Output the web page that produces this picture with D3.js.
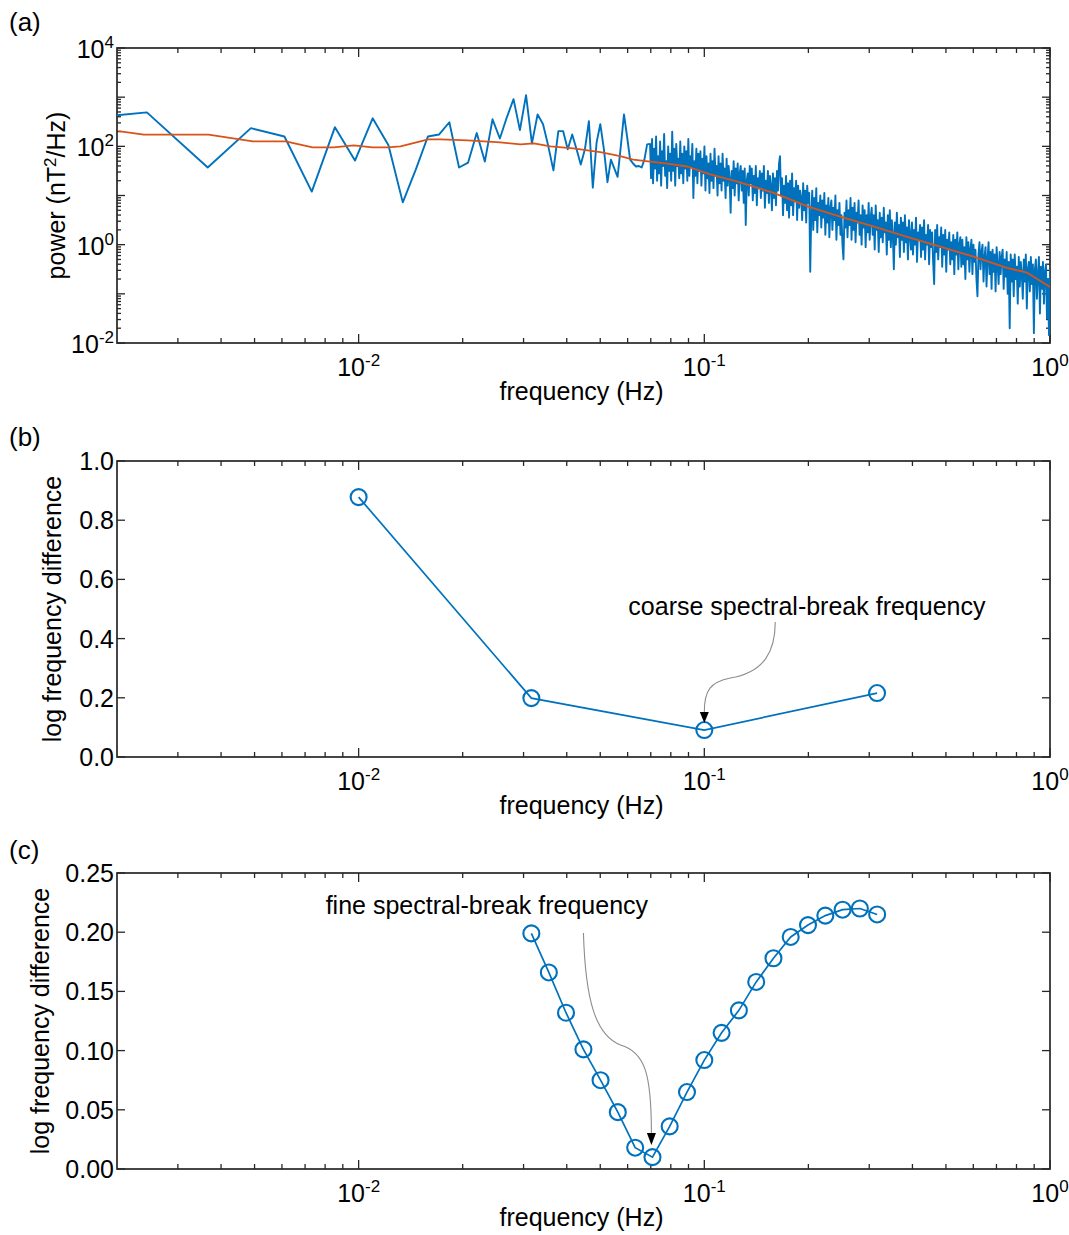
<!DOCTYPE html>
<html><head><meta charset="utf-8">
<script src="https://cdn.jsdelivr.net/npm/d3@7"></script>
<style>
body{margin:0;background:#fff}
text{font-family:"Liberation Sans",Arial,Helvetica,sans-serif;fill:#000}
</style>
</head><body>
<svg id="chart" width="1069" height="1235"></svg>
<script>
// ---------------- DATA ----------------
// (a) power spectrum: FFT bins f = k*df, k = 1..56 (log10 of power, nT^2/Hz)
const df = 0.00122;
const powerLowLog10 = [2.49,2.69,1.57,2.37,2.20,1.08,2.39,1.71,2.57,2.02,
  0.86,1.53,2.20,2.24,2.49,1.57,1.67,2.27,1.69,2.55,
  2.16,2.59,2.96,2.33,3.04,2.06,2.65,2.45,2.00,1.51,
  2.31,2.31,1.94,2.24,1.94,1.63,1.94,2.51,1.16,2.08,
  2.45,1.94,1.27,1.73,1.55,1.38,2.00,2.65,2.20,1.73,
  1.65,1.59,1.60,1.57,1.73,2.04];
// (a) dense high-frequency part, log-spaced from 10^hfLogFreqStart to 10^hfLogFreqEnd Hz
const hfLogFreqStart = -1.157, hfLogFreqEnd = 0;
const powerHighLog10 = [
 2.05,1.35,2.15,1.25,1.95,1.55,2.2,1.3,1.8,1.45,
 2.1,1.2,1.9,1.6,2.25,1.4,1.7,1.15,2.0,1.5,
 1.85,1.3,2.3,1.5,1.95,1.2,2.05,1.6,1.75,1.35,
 2.1,1.45,1.85,1.25,2.0,1.55,1.9,1.3,2.15,1.4,
 1.8,1.6,2.05,0.95,1.7,1.4,1.95,1.25,1.85,1.5,
 1.9,1.2,1.75,1.45,2.0,1.1,1.8,1.35,1.65,1.05,
 1.85,1.3,1.7,1.15,1.95,1.4,1.6,1.0,1.8,1.25,
 1.65,1.1,1.85,1.3,1.55,0.95,1.75,1.2,1.6,1.35,
 0.65,1.5,1.15,1.7,1.0,1.55,1.25,1.65,0.9,1.45,
 1.6,1.1,1.5,0.85,1.55,0.4,1.3,1.45,1.0,1.6,
 1.25,1.55,0.9,1.4,1.05,1.6,0.8,1.35,1.15,1.5,
 0.95,1.45,1.1,1.6,0.75,1.3,1.05,1.5,0.85,1.4,
 1.2,0.7,1.45,0.95,1.35,0.8,1.5,1.1,1.65,1.8,
 1.0,1.35,0.6,1.2,0.85,1.4,0.7,1.25,0.55,1.3,
 0.8,1.45,0.6,1.15,0.9,1.3,0.5,1.2,0.75,1.1,
 0.95,0.5,1.25,0.7,1.1,0.45,1.2,0.85,1.05,-0.55,
 0.6,1.1,0.3,0.95,0.5,1.15,0.25,0.85,0.6,1.0,
 0.35,0.9,0.55,1.05,0.2,0.8,0.45,0.95,0.15,0.75,
 0.9,0.3,0.75,0.5,1.0,0.1,0.7,0.4,0.85,0.2,
 0.6,0.0,-0.3,0.65,0.35,0.9,0.15,0.7,0.4,0.95,
 0.1,0.75,0.3,0.85,0.05,0.65,0.45,0.9,0.2,0.6,
 0.0,0.8,0.35,0.7,-0.05,0.6,0.25,0.85,0.1,0.55,
 0.75,0.2,0.6,-0.1,0.8,0.3,0.5,-0.15,0.65,0.15,
 0.55,0.05,0.75,0.25,0.45,-0.2,0.6,0.1,0.7,-0.05,
 0.5,0.2,-0.5,0.45,0.0,0.65,0.15,0.4,-0.25,0.55,
 0.1,0.45,-0.15,0.6,0.05,0.35,-0.3,0.5,0.2,-0.1,
 0.45,-0.2,0.3,0.0,0.55,-0.35,0.25,0.1,0.4,-0.25,
 0.35,-0.1,0.5,-0.3,0.2,0.0,0.4,-0.4,0.3,-0.05,
 0.25,-0.35,-0.8,0.3,-0.15,0.4,-0.3,0.15,-0.05,0.35,
 -0.45,0.2,-0.2,0.3,-0.55,0.1,-0.1,0.25,-0.4,0.05,
 -0.3,0.2,-0.6,0.1,-0.2,0.25,-0.5,0.0,0.15,-0.45,
 0.1,-0.4,-0.05,-0.7,0.15,-0.3,0.05,-0.55,-0.1,0.1,
 -0.6,0.0,-0.35,-0.1,-0.7,-1.05,-0.2,0.05,-0.5,-0.15,
 0.0,-0.75,-0.25,-0.05,-0.85,-0.3,0.05,-0.6,-0.15,-0.9,
 -0.1,-0.55,-0.2,-0.95,-0.05,-0.4,-0.8,-0.15,-0.6,-0.25,
 -0.1,-0.9,-0.3,-0.65,-0.15,-1.0,-0.35,-1.7,-0.2,-0.75,
 -0.3,-1.05,-0.2,-0.7,-0.45,-1.2,-0.25,-0.85,-0.35,-0.6,
 -1.1,-0.3,-0.75,-0.2,-1.3,-0.5,-0.35,-0.95,-0.25,-0.8,
 -0.4,-1.8,-0.5,-0.3,-1.1,-0.6,-0.25,-1.4,-0.45,-0.9,
 -0.35,-1.2,-0.55,-0.4,-1.5,-0.7,-1.84,-0.5];
// (a) smoothed spectrum (orange)
const smoothFreq = [0.00202,0.00239,0.00368,0.00494,0.00615,0.00736,0.00847,0.00968,0.01097,0.01213,
  0.01322,0.0159,0.01725,0.02065,0.0257,0.0294,0.0321,0.0359,0.0418,0.050,
  0.0571,0.0623,0.0782,0.0893,0.104,0.121,0.136,0.158,0.199,0.247,
  0.308,0.386,0.481,0.598,0.751,0.859,1.0];
const smoothLog10 = [2.31,2.24,2.24,2.10,2.10,1.98,1.98,2.02,1.98,1.98,
  2.00,2.14,2.14,2.12,2.08,2.04,2.06,2.00,1.96,1.88,
  1.80,1.73,1.65,1.59,1.43,1.31,1.20,1.06,0.78,0.57,
  0.37,0.16,-0.04,-0.24,-0.47,-0.57,-0.86];
// (b) coarse search
const coarseFreq = [0.01,0.0316,0.1,0.316];
const coarseDiff = [0.878,0.199,0.091,0.216];
// (c) fine search
const fineFreq = [0.0316,0.0355,0.0398,0.0447,0.0501,0.0562,0.0631,0.0708,0.0794,0.0891,
  0.1,0.1122,0.1259,0.1413,0.1585,0.1778,0.1995,0.2239,0.2512,0.2818,0.3162];
const fineDiff = [0.199,0.166,0.132,0.101,0.075,0.048,0.018,0.010,0.036,0.065,
  0.092,0.115,0.134,0.158,0.178,0.196,0.206,0.214,0.219,0.220,0.215];
// tick labels
const xTickValues = [0.01,0.1,1];
const xTickExp = ["-2","-1","0"];
const powerTickValues = [0.01,1,100,10000];
const powerTickExp = ["-2","0","2","4"];
const coarseTickValues = [0,0.2,0.4,0.6,0.8,1.0];
const coarseTickLabels = ["0.0","0.2","0.4","0.6","0.8","1.0"];
const fineTickValues = [0,0.05,0.10,0.15,0.20,0.25];
const fineTickLabels = ["0.00","0.05","0.10","0.15","0.20","0.25"];
// annotations (data coordinates)
const coarseNote = {text:"coarse spectral-break frequency", f:0.0603, v:0.480,
  path:[[0.1604,0.456],[0.1604,0.361],[0.1501,0.287],[0.1189,0.267],[0.1041,0.253],[0.1,0.226],[0.1,0.152]], tip:[0.1,0.115]};
const fineNote = {text:"fine spectral-break frequency", f:0.00803, v:0.215,
  path:[[0.0447,0.1993],[0.0453,0.1427],[0.0484,0.1132],[0.0572,0.1047],[0.0675,0.0988],[0.0703,0.0794],[0.0703,0.0304]], tip:[0.0703,0.0203]};

// ---------------- DRAW ----------------
const BLUE="#0072BD", ORANGE="#D95319", AX="#262626";
const L=117, R=1050;
const svg=d3.select("#chart");
const x=d3.scaleLog().domain([0.002,1]).range([L,R]);
const xMajor=[0.01,0.1,1];
const xMinor=x.ticks().filter(t=>!xMajor.some(m=>Math.abs(m-t)/m<1e-6) && t>0.0021);

function frame(top,bottom,yScale,yMaj,yMin){
  const g=svg.append("g");
  const tk=(x1,y1,x2,y2)=>g.append("line").attr("x1",x1).attr("y1",y1).attr("x2",x2).attr("y2",y2)
     .attr("stroke",AX).attr("stroke-width",1.3);
  xMinor.forEach(t=>{const p=x(t);tk(p,bottom,p,bottom-5);tk(p,top,p,top+5);});
  xMajor.forEach(t=>{const p=x(t);tk(p,bottom,p,bottom-9);tk(p,top,p,top+9);});
  yMin.forEach(t=>{const p=yScale(t);tk(L,p,L+4,p);tk(R,p,R-4,p);});
  yMaj.forEach(t=>{const p=yScale(t);tk(L,p,L+8,p);tk(R,p,R-8,p);});
  g.append("rect").attr("x",L).attr("y",top).attr("width",R-L).attr("height",bottom-top)
    .attr("fill","none").attr("stroke",AX).attr("stroke-width",1.7);
  xTickValues.forEach((t,i)=>{
    const tx=g.append("text").attr("x",x(t)).attr("y",bottom+33).attr("text-anchor","middle").attr("font-size",25);
    tx.append("tspan").text("10");
    tx.append("tspan").attr("dy",-10).attr("font-size",17).text(xTickExp[i]);
  });
  g.append("text").attr("x",(L+R)/2 - 2).attr("y",bottom+57).attr("text-anchor","middle")
    .attr("font-size",25).text("frequency (Hz)");
  return g;
}
function ytitle(cx,cy,build){
  const t=svg.append("text").attr("transform",`translate(${cx},${cy}) rotate(-90)`)
    .attr("text-anchor","middle").attr("dy","0.35em").attr("font-size",25);
  build(t);
}
function panelLabel(txt,yb){svg.append("text").attr("x",9).attr("y",yb).attr("font-size",26).text(txt);}

// ---- Panel (a)
const aTop=48, aBot=343;
const ya=d3.scaleLog().domain([0.01,10000]).range([aBot,aTop]);
const yaMaj=[0.01,0.1,1,10,100,1000,10000];
const yaMin=ya.ticks().filter(t=>!yaMaj.some(m=>Math.abs(m-t)/m<1e-6));
frame(aTop,aBot,ya,yaMaj,yaMin);
powerTickValues.forEach((t,i)=>{
  const tx=svg.append("text").attr("x",114).attr("y",ya(t)+10).attr("text-anchor","end").attr("font-size",25);
  tx.append("tspan").text("10");
  tx.append("tspan").attr("dy",-10).attr("font-size",17).text(powerTickExp[i]);
});
ytitle(56,(aTop+aBot)/2,t=>{
  t.append("tspan").text("power (nT");
  t.append("tspan").attr("dy",-9).attr("font-size",17).text("2");
  t.append("tspan").attr("dy",9).text("/Hz)");
});
panelLabel("(a)",31);
svg.append("clipPath").attr("id","clipA").append("rect").attr("x",L).attr("y",aTop).attr("width",R-L).attr("height",aBot-aTop);
const spec=[];
powerLowLog10.forEach((v,i)=>spec.push({f:(i+1)*df,p:Math.pow(10,v)}));
const nH=powerHighLog10.length;
powerHighLog10.forEach((v,i)=>spec.push({f:Math.pow(10,hfLogFreqStart+(hfLogFreqEnd-hfLogFreqStart)*i/(nH-1)),p:Math.pow(10,v)}));
const lineA=d3.line().x(d=>x(d.f)).y(d=>ya(d.p));
const ga=svg.append("g").attr("clip-path","url(#clipA)");
ga.append("path").datum(spec).attr("d",lineA).attr("fill","none").attr("stroke",BLUE)
  .attr("stroke-width",1.9).attr("stroke-linejoin","round");
const smooth=smoothFreq.map((f,i)=>({f,p:Math.pow(10,smoothLog10[i])}));
ga.append("path").datum(smooth).attr("d",lineA).attr("fill","none").attr("stroke",ORANGE)
  .attr("stroke-width",1.8).attr("stroke-linejoin","round");

// ---- Panel (b) and (c)
function diffPanel(top,bot,domainMax,tickVals,tickLabs,freq,diff,note,label,labelY,titleX){
  const y=d3.scaleLinear().domain([0,domainMax]).range([bot,top]);
  frame(top,bot,y,tickVals,[]);
  tickVals.forEach((t,i)=>svg.append("text").attr("x",114).attr("y",y(t)).attr("dy","0.36em")
     .attr("text-anchor","end").attr("font-size",25).text(tickLabs[i]));
  ytitle(titleX,(top+bot)/2,t=>t.text("log frequency difference"));
  panelLabel(label,labelY);
  const pts=freq.map((f,i)=>({f,v:diff[i]}));
  svg.append("path").datum(pts).attr("d",d3.line().x(d=>x(d.f)).y(d=>y(d.v)))
    .attr("fill","none").attr("stroke",BLUE).attr("stroke-width",1.7);
  svg.selectAll(null).data(pts).enter().append("circle")
    .attr("cx",d=>x(d.f)).attr("cy",d=>y(d.v)).attr("r",8)
    .attr("fill","none").attr("stroke",BLUE).attr("stroke-width",2.1);
  svg.append("text").attr("x",x(note.f)).attr("y",y(note.v)).attr("font-size",25).text(note.text);
  const P=note.path.map(p=>[x(p[0]),y(p[1])]);
  const d=`M${P[0]}C${P[1]} ${P[2]} ${P[3]}C${P[4]} ${P[5]} ${P[6]}`;
  svg.append("path").attr("d",d).attr("fill","none").attr("stroke","#8c8c8c").attr("stroke-width",1.1);
  const tx=x(note.tip[0]), ty=y(note.tip[1]), by=P[6][1];
  svg.append("path").attr("d",`M${tx-4.5},${by}L${tx+4.5},${by}L${tx},${ty}Z`).attr("fill","#000");
}
diffPanel(461,757,1.0,coarseTickValues,coarseTickLabels,coarseFreq,coarseDiff,coarseNote,"(b)",446,52);
diffPanel(873,1169,0.25,fineTickValues,fineTickLabels,fineFreq,fineDiff,fineNote,"(c)",859,40);
</script>
</body></html>
